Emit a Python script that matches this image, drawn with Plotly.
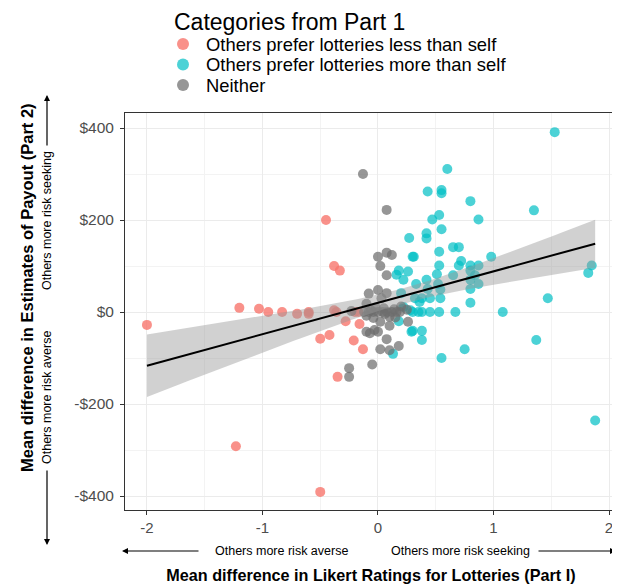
import numpy as np
import plotly.graph_objects as go

# ---------------- data ----------------
categories = ["Others prefer lotteries less than self",
              "Others prefer lotteries more than self",
              "Neither"]
colors = ["#F8766D", "#00BFC4", "#6E6E6E"]

less_x = [-2.00, -1.20, -1.03, -0.95, -0.83, -0.70, -0.60, -0.60, -0.45, -0.38,
          -0.33, -0.38, -0.36, -0.20, -0.17, -0.28, -0.16, -0.50, -0.42, -0.21,
          -0.13, -0.35, -1.23, -0.50]
less_y = [-28, 9, 7, 0, 0, -4, 0, -4, 200, 100,
          90, 4, 0, 0, 0, -20, -26, -58, -50, -62,
          -81, -141, -292, -391]

more_x = [1.53, 0.60, 0.43, 0.55, 0.55, 0.80, 1.35, 0.87, 0.47, 0.53,
          0.55, 0.27, 0.42, 0.42, 0.65, 0.70, 0.30, 0.53, 0.98, 0.70,
          0.72, 0.53, 0.80, 0.87, 0.80, 0.84, 0.16, 0.18, 0.26, 0.22,
          0.33, 0.42, 0.51, 0.65, 0.52, 0.80, 0.87, 0.80, 0.43, 0.54,
          0.20, 0.54, 0.32, 0.38, 0.45, 0.80, 1.47, 1.82, 1.85, 1.08,
          0.67, 0.53, 0.45, 0.38, 0.30, 0.35, 0.22, 0.28, 0.18, 0.30,
          0.38, 0.38, 0.13, 0.55, 0.75, 1.37, 1.88, 0.36, 0.29, 0.31]
more_y = [391, 311, 262, 265, 258, 241, 221, 201, 201, 211,
          180, 161, 171, 160, 141, 141, 120, 131, 120, 101,
          111, 101, 101, 101, 90, 80, 81, 90, 88, 70,
          61, 70, 82, 80, 61, 70, 61, 50, 50, 49,
          41, 30, 30, 30, 30, 20, 30, 85, 101, 0,
          0, 0, 0, 0, 0, 0, 11, 4, -20, -41,
          -41, -61, -91, -100, -81, -61, -236, 22, -43, 120]

neither_x = [-0.13, 0.075, 0.00, 0.075, 0.12, 0.02, 0.075, -0.08, 0.00, 0.075,
             -0.10, -0.23, -0.12, -0.08, -0.04, 0.00, 0.04, 0.08, 0.12, 0.16,
             0.19, 0.25, -0.04, 0.02, 0.10, 0.26, -0.10, -0.03, 0.00, -0.07,
             0.075, 0.02, 0.18, 0.10, -0.05, -0.25, -0.25, 0.03, -0.02, 0.05,
             0.10, -0.10, 0.15, 0.20, -0.06, 0.06, 0.14]
neither_y = [300, 222, 120, 129, 124, 100, 80, 40, 48, 41,
             18, 2, 0, 0, 0, 0, 0, 0, 0, 0,
             0, 5, -13, -21, -30, -21, -43, -39, -43, -46,
             -59, -81, -74, -83, -114, -122, -141, 30, 10, 8,
             -10, -8, -12, 12, 4, -4, 6]

x_ticks = [-2, -1, 0, 1, 2]
y_ticks = [400, 200, 0, -200, -400]
y_tick_text = ["$400", "$200", "$0", "-$200", "-$400"]

# ---------------- linear fit with 95% CI (as geom_smooth(method="lm")) ----------------
all_x = np.array(less_x + more_x + neither_x, dtype=float)
all_y = np.array(less_y + more_y + neither_y, dtype=float)
n = len(all_x)
slope, intercept = np.polyfit(all_x, all_y, 1)
resid = all_y - (intercept + slope * all_x)
s = np.sqrt(np.sum(resid ** 2) / (n - 2))
xbar = all_x.mean()
sxx = np.sum((all_x - xbar) ** 2)
t_crit = 1.977
fx = np.linspace(all_x.min(), all_x.max(), 80)
fy = intercept + slope * fx
se = s * np.sqrt(1.0 / n + (fx - xbar) ** 2 / sxx)
lo, hi = fy - t_crit * se, fy + t_crit * se

# ---------------- figure geometry ----------------
OFF = 8                      # page body margin
W, H = 612, 577
L, R, T, B = 117, 3, 105, 75
PW, PH = W - L - R, H - T - B


def px(xpix):               # screenshot pixel -> paper x
    return (xpix - OFF - L) / PW


def py(ypix):               # screenshot pixel -> paper y
    return (H - B - (ypix - OFF)) / PH


fig = go.Figure()
series = [(less_x, less_y), (more_x, more_y), (neither_x, neither_y)]
alphas = [0.8, 0.7, 0.72]
for (xs, ys), name, col, a in zip(series, categories, colors, alphas):
    fig.add_trace(go.Scatter(x=xs, y=ys, mode="markers", name=name,
                             showlegend=False,
                             marker=dict(size=10, color=col, opacity=a,
                                         line=dict(width=0))))

fig.add_trace(go.Scatter(x=np.concatenate([fx, fx[::-1]]),
                         y=np.concatenate([hi, lo[::-1]]),
                         fill="toself", fillcolor="rgba(153,153,153,0.45)",
                         line=dict(width=0), mode="lines", hoverinfo="skip",
                         showlegend=False))
fig.add_trace(go.Scatter(x=fx, y=fy, mode="lines",
                         line=dict(color="black", width=2), showlegend=False))

font_main = "Liberation Sans, Arial, sans-serif"

fig.update_layout(
    width=W, height=H,
    margin=dict(l=L, r=R, t=T, b=B, autoexpand=False),
    paper_bgcolor="white", plot_bgcolor="white",
    font=dict(family=font_main, color="black"),
    showlegend=False,
)

fig.update_xaxes(
    range=[-2.19, 2.069], tickvals=x_ticks, ticktext=[str(v) for v in x_ticks],
    showgrid=True, gridcolor="#EBEBEB", gridwidth=1.2, zeroline=False,
    minor=dict(dtick=0.5, showgrid=True, gridcolor="#F3F3F3", gridwidth=0.7),
    showline=True, mirror=True, linecolor="#333333", linewidth=1,
    ticks="outside", ticklen=4, tickcolor="#333333",
    tickfont=dict(size=15, color="#4D4D4D"),
    title=dict(text="<b>Mean difference in Likert Ratings for Lotteries (Part I)</b>",
               font=dict(size=16.2, color="black"), standoff=34),
)
fig.update_yaxes(
    range=[-430.4, 432.6], tickvals=y_ticks, ticktext=y_tick_text,
    showgrid=True, gridcolor="#EBEBEB", gridwidth=1.2, zeroline=False,
    minor=dict(dtick=100, showgrid=True, gridcolor="#F3F3F3", gridwidth=0.7),
    showline=True, mirror=True, linecolor="#333333", linewidth=1,
    ticks="outside", ticklen=4, tickcolor="#333333", ticklabelstandoff=3,
    tickfont=dict(size=15.5, color="#4D4D4D"),
)

ann = []
shapes = []
# y-axis title (placed as in the reference, slightly above panel centre)
ann.append(dict(text="<b>Mean difference in Estimates of Payout (Part 2)</b>",
                x=px(27), y=py(288), xref="paper", yref="paper",
                xanchor="center", yanchor="middle", showarrow=False, textangle=-90,
                font=dict(size=16.5, color="black")))

# ---------------- manual legend ----------------
ann.append(dict(text="Categories from Part 1", x=px(172), y=py(22), xref="paper", yref="paper",
                xanchor="left", yanchor="middle", showarrow=False,
                font=dict(size=23, color="black")))
leg_y = [44, 64.5, 85]
for name, col, a, yy in zip(categories, colors, alphas, leg_y):
    shapes.append(dict(type="circle", xref="paper", yref="paper",
                       x0=px(177), x1=px(189), y0=py(yy - 6), y1=py(yy + 6),
                       fillcolor=col, opacity=a, line=dict(width=0)))
    ann.append(dict(text=name, x=px(204), y=py(yy), xref="paper", yref="paper",
                    xanchor="left", yanchor="middle", showarrow=False,
                    font=dict(size=18.4, color="black")))

# ---------------- direction hints ----------------
small = dict(size=12.5, color="black")
ann.append(dict(text="Others more risk averse", x=px(281), y=py(551), xref="paper", yref="paper",
                xanchor="center", yanchor="middle", showarrow=False, font=small))
ann.append(dict(text="Others more risk seeking", x=px(460), y=py(551), xref="paper", yref="paper",
                xanchor="center", yanchor="middle", showarrow=False, font=small))
ann.append(dict(text="", x=px(122), y=py(551), ax=78, ay=0, xref="paper", yref="paper",
                showarrow=True, arrowhead=2, arrowsize=1, arrowwidth=1.2, arrowcolor="black"))
ann.append(dict(text="", x=px(616), y=py(551), ax=-79, ay=0, xref="paper", yref="paper",
                showarrow=True, arrowhead=2, arrowsize=1, arrowwidth=1.2, arrowcolor="black"))

ann.append(dict(text="Others more risk seeking", x=px(47), y=py(221), xref="paper", yref="paper",
                xanchor="center", yanchor="middle", showarrow=False, textangle=-90, font=small))
ann.append(dict(text="Others more risk averse", x=px(47), y=py(398), xref="paper", yref="paper",
                xanchor="center", yanchor="middle", showarrow=False, textangle=-90, font=small))
ann.append(dict(text="", x=px(47), y=py(95), ax=0, ay=52, xref="paper", yref="paper",
                showarrow=True, arrowhead=2, arrowsize=1, arrowwidth=1.2, arrowcolor="black"))
ann.append(dict(text="", x=px(47), y=py(545), ax=0, ay=-76, xref="paper", yref="paper",
                showarrow=True, arrowhead=2, arrowsize=1, arrowwidth=1.2, arrowcolor="black"))

fig.update_layout(annotations=ann, shapes=shapes)

fig.write_html("out.html")
